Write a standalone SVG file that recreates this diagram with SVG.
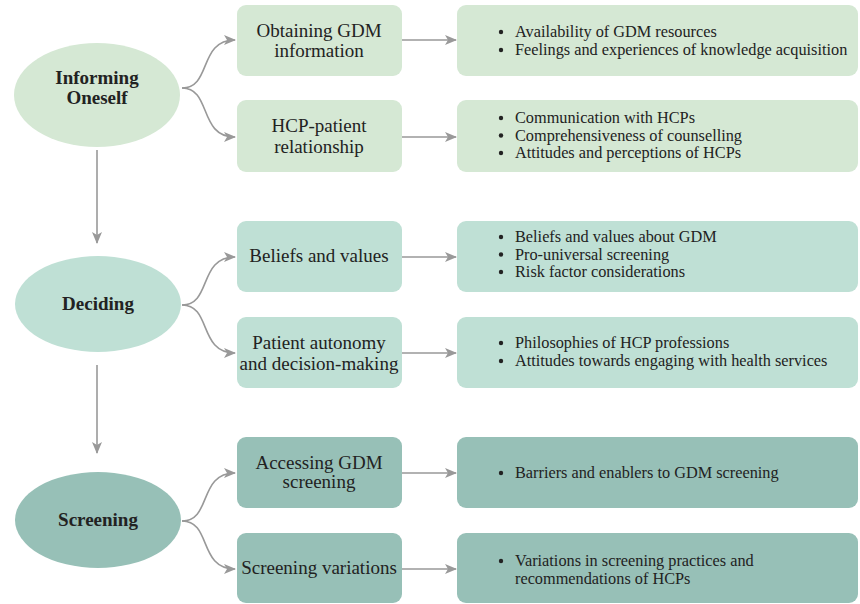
<svg xmlns="http://www.w3.org/2000/svg" width="860" height="604" viewBox="0 0 860 604">
<defs>
<marker id="ah" viewBox="0 0 12 10" refX="11" refY="5" markerWidth="12" markerHeight="10" markerUnits="userSpaceOnUse" orient="auto">
<path d="M0,0 L12,5 L0,10 L3,5 Z" fill="#999"/>
</marker>
</defs>
<style>
text{fill:#222;font-family:"Liberation Serif","Times New Roman",serif}
.n{font-size:19px;text-anchor:middle}
.b{font-size:19px;font-weight:bold;text-anchor:middle}
.l{font-size:16.3px}
.d{fill:#222}
.c1{fill:#d5e8d4}
.c2{fill:#bfe0d5}
.c3{fill:#97c0b7}
.e{fill:none;stroke:#999;stroke-width:1.6;marker-end:url(#ah)}
</style>
<rect width="860" height="604" fill="#fff"/>
<g id="connectors">
<path class="e" d="M97,150 V243"/>
<path class="e" d="M97,365 V453"/>
<path class="e" d="M182,88 C212,88 198,40 235,40"/>
<path class="e" d="M182,88 C212,88 198,137 235,137"/>
<path class="e" d="M182,305 C212,305 198,257 235,257"/>
<path class="e" d="M182,305 C212,305 198,353 235,353"/>
<path class="e" d="M182,521 C212,521 198,473 235,473"/>
<path class="e" d="M182,521 C212,521 198,569 235,569"/>
<path class="e" d="M402,40 H456"/>
<path class="e" d="M402,137 H456"/>
<path class="e" d="M402,257 H456"/>
<path class="e" d="M402,353 H456"/>
<path class="e" d="M402,473 H456"/>
<path class="e" d="M402,569 H456"/>
</g>
<g id="informing">
<ellipse class="c1" cx="97" cy="95" rx="83" ry="52"/>
<text class="b" x="97" y="84">Informing</text>
<text class="b" x="97" y="104">Oneself</text>
</g>
<g id="deciding">
<ellipse class="c2" cx="98" cy="304" rx="83" ry="48"/>
<text class="b" x="98" y="310">Deciding</text>
</g>
<g id="screening">
<ellipse class="c3" cx="98" cy="520" rx="83" ry="48"/>
<text class="b" x="98" y="526">Screening</text>
</g>
<g id="obtaining">
<rect class="c1" x="237" y="5" width="165" height="71" rx="9"/>
<text class="n" x="319" y="37">Obtaining GDM</text>
<text class="n" x="319" y="57">information</text>
</g>
<g id="hcp">
<rect class="c1" x="237" y="100" width="165" height="72" rx="9"/>
<text class="n" x="319" y="132">HCP-patient</text>
<text class="n" x="319" y="153">relationship</text>
</g>
<g id="beliefs">
<rect class="c2" x="237" y="221" width="165" height="71" rx="9"/>
<text class="n" x="319" y="262">Beliefs and values</text>
</g>
<g id="autonomy">
<rect class="c2" x="237" y="317" width="165" height="71" rx="9"/>
<text class="n" x="319" y="349">Patient autonomy</text>
<text class="n" x="319" y="370">and decision-making</text>
</g>
<g id="accessing">
<rect class="c3" x="237" y="437" width="165" height="71" rx="9"/>
<text class="n" x="319" y="469">Accessing GDM</text>
<text class="n" x="319" y="488">screening</text>
</g>
<g id="variations">
<rect class="c3" x="237" y="533" width="165" height="70" rx="9"/>
<text class="n" x="319" y="574">Screening variations</text>
</g>
<g id="d1">
<rect class="c1" x="457" y="5" width="401" height="71" rx="9"/>
<circle class="d" cx="501" cy="32" r="2.2"/><text class="l" x="515" y="37">Availability of GDM resources</text>
<circle class="d" cx="501" cy="50" r="2.2"/><text class="l" x="515" y="55">Feelings and experiences of knowledge acquisition</text>
</g>
<g id="d2">
<rect class="c1" x="457" y="100" width="401" height="72" rx="9"/>
<circle class="d" cx="501" cy="118" r="2.2"/><text class="l" x="515" y="123">Communication with HCPs</text>
<circle class="d" cx="501" cy="135.5" r="2.2"/><text class="l" x="515" y="140.5">Comprehensiveness of counselling</text>
<circle class="d" cx="501" cy="153" r="2.2"/><text class="l" x="515" y="158">Attitudes and perceptions of HCPs</text>
</g>
<g id="d3">
<rect class="c2" x="457" y="221" width="401" height="71" rx="9"/>
<circle class="d" cx="501" cy="237" r="2.2"/><text class="l" x="515" y="242">Beliefs and values about GDM</text>
<circle class="d" cx="501" cy="254.5" r="2.2"/><text class="l" x="515" y="259.5">Pro-universal screening</text>
<circle class="d" cx="501" cy="272" r="2.2"/><text class="l" x="515" y="277">Risk factor considerations</text>
</g>
<g id="d4">
<rect class="c2" x="457" y="317" width="401" height="71" rx="9"/>
<circle class="d" cx="501" cy="343" r="2.2"/><text class="l" x="515" y="348">Philosophies of HCP professions</text>
<circle class="d" cx="501" cy="361" r="2.2"/><text class="l" x="515" y="366">Attitudes towards engaging with health services</text>
</g>
<g id="d5">
<rect class="c3" x="457" y="437" width="401" height="71" rx="9"/>
<circle class="d" cx="501" cy="473" r="2.2"/><text class="l" x="515" y="478">Barriers and enablers to GDM screening</text>
</g>
<g id="d6">
<rect class="c3" x="457" y="533" width="401" height="70" rx="9"/>
<circle class="d" cx="501" cy="561" r="2.2"/><text class="l" x="515" y="566">Variations in screening practices and</text>
<text class="l" x="515" y="584">recommendations of HCPs</text>
</g>
</svg>
